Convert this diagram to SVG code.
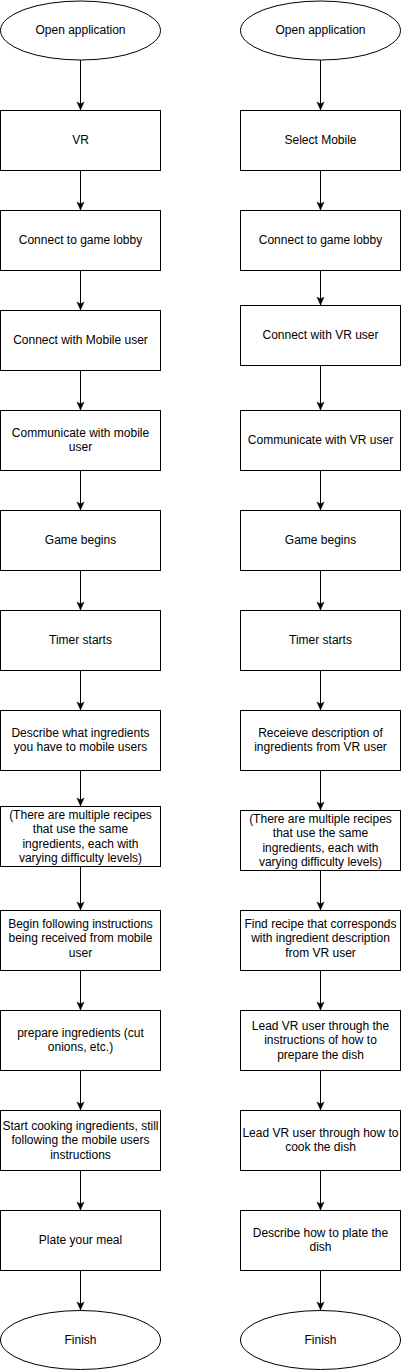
<svg xmlns="http://www.w3.org/2000/svg" width="402" height="1371" viewBox="0 0 402 1371">
<style>
.s{fill:#fff;stroke:#000;stroke-width:1}
.t{font-family:"Liberation Sans",Arial,Helvetica,sans-serif;font-size:12px;fill:#000;text-anchor:middle}
.c{fill:none;stroke:#000;stroke-width:1}
</style>
<defs>
<marker id="a" markerUnits="userSpaceOnUse" markerWidth="10" markerHeight="10" refX="8" refY="4" orient="auto">
<path d="M0,0.5 L8,4 L0,7.5 L2,4 Z" fill="#000" stroke="#000" stroke-width="0.5"/>
</marker>
</defs>
<rect width="402" height="1371" fill="#fff"/>
<g id="connectors">
<path class="c" marker-end="url(#a)" d="M80.5,60 V110"/>
<path class="c" marker-end="url(#a)" d="M80.5,170 V210"/>
<path class="c" marker-end="url(#a)" d="M80.5,270 V310"/>
<path class="c" marker-end="url(#a)" d="M80.5,370 V410"/>
<path class="c" marker-end="url(#a)" d="M80.5,470 V510"/>
<path class="c" marker-end="url(#a)" d="M80.5,570 V610"/>
<path class="c" marker-end="url(#a)" d="M80.5,670 V710"/>
<path class="c" marker-end="url(#a)" d="M80.5,770 V806"/>
<path class="c" marker-end="url(#a)" d="M80.5,866 V910"/>
<path class="c" marker-end="url(#a)" d="M80.5,970 V1010"/>
<path class="c" marker-end="url(#a)" d="M80.5,1070 V1110"/>
<path class="c" marker-end="url(#a)" d="M80.5,1170 V1210"/>
<path class="c" marker-end="url(#a)" d="M80.5,1270 V1310"/>
<path class="c" marker-end="url(#a)" d="M320.5,60 V110"/>
<path class="c" marker-end="url(#a)" d="M320.5,170 V210"/>
<path class="c" marker-end="url(#a)" d="M320.5,270 V305"/>
<path class="c" marker-end="url(#a)" d="M320.5,365 V410"/>
<path class="c" marker-end="url(#a)" d="M320.5,470 V510"/>
<path class="c" marker-end="url(#a)" d="M320.5,570 V610"/>
<path class="c" marker-end="url(#a)" d="M320.5,670 V710"/>
<path class="c" marker-end="url(#a)" d="M320.5,770 V810"/>
<path class="c" marker-end="url(#a)" d="M320.5,870 V910"/>
<path class="c" marker-end="url(#a)" d="M320.5,970 V1010"/>
<path class="c" marker-end="url(#a)" d="M320.5,1070 V1110"/>
<path class="c" marker-end="url(#a)" d="M320.5,1170 V1210"/>
<path class="c" marker-end="url(#a)" d="M320.5,1270 V1310"/>
</g>
<g id="L0"><ellipse class="s" cx="80.5" cy="30.5" rx="80" ry="29.5"/><text class="t" x="80.5" y="34">Open application</text></g>
<g id="L1"><rect class="s" x="0.5" y="110.5" width="160" height="60"/><text class="t" x="80.5" y="144">VR</text></g>
<g id="L2"><rect class="s" x="0.5" y="210.5" width="160" height="60"/><text class="t" x="80.5" y="244">Connect to game lobby</text></g>
<g id="L3"><rect class="s" x="0.5" y="310.5" width="160" height="60"/><text class="t" x="80.5" y="344">Connect with Mobile user</text></g>
<g id="L4"><rect class="s" x="0.5" y="410.5" width="160" height="60"/><text class="t" x="80.5" y="437">Communicate with mobile</text><text class="t" x="80.5" y="451">user</text></g>
<g id="L5"><rect class="s" x="0.5" y="510.5" width="160" height="60"/><text class="t" x="80.5" y="544">Game begins</text></g>
<g id="L6"><rect class="s" x="0.5" y="610.5" width="160" height="60"/><text class="t" x="80.5" y="644">Timer starts</text></g>
<g id="L7"><rect class="s" x="0.5" y="710.5" width="160" height="60"/><text class="t" x="80.5" y="737">Describe what ingredients</text><text class="t" x="80.5" y="751">you have to mobile users</text></g>
<g id="L8"><rect class="s" x="0.5" y="806.5" width="160" height="60"/><text class="t" x="80.5" y="818.5">(There are multiple recipes</text><text class="t" x="80.5" y="833">that use the same</text><text class="t" x="80.5" y="847.5">ingredients, each with</text><text class="t" x="80.5" y="862">varying difficulty levels)</text></g>
<g id="L9"><rect class="s" x="0.5" y="910.5" width="160" height="60"/><text class="t" x="80.5" y="927.5">Begin following instructions</text><text class="t" x="80.5" y="942">being received from mobile</text><text class="t" x="80.5" y="956.5">user</text></g>
<g id="L10"><rect class="s" x="0.5" y="1010.5" width="160" height="60"/><text class="t" x="80.5" y="1037">prepare ingredients (cut</text><text class="t" x="80.5" y="1051">onions, etc.)</text></g>
<g id="L11"><rect class="s" x="0.5" y="1110.5" width="160" height="60"/><text class="t" x="80.5" y="1129.5">Start cooking ingredients, still</text><text class="t" x="80.5" y="1144">following the mobile users</text><text class="t" x="80.5" y="1158.5">instructions</text></g>
<g id="L12"><rect class="s" x="0.5" y="1210.5" width="160" height="60"/><text class="t" x="80.5" y="1244">Plate your meal</text></g>
<g id="L13"><ellipse class="s" cx="80.5" cy="1340" rx="80" ry="29.5"/><text class="t" x="80.5" y="1344">Finish</text></g>
<g id="R0"><ellipse class="s" cx="320.5" cy="30.5" rx="80" ry="29.5"/><text class="t" x="320.5" y="34">Open application</text></g>
<g id="R1"><rect class="s" x="240.5" y="110.5" width="160" height="60"/><text class="t" x="320.5" y="144">Select Mobile</text></g>
<g id="R2"><rect class="s" x="240.5" y="210.5" width="160" height="60"/><text class="t" x="320.5" y="244">Connect to game lobby</text></g>
<g id="R3"><rect class="s" x="240.5" y="305.5" width="160" height="60"/><text class="t" x="320.5" y="339">Connect with VR user</text></g>
<g id="R4"><rect class="s" x="240.5" y="410.5" width="160" height="60"/><text class="t" x="320.5" y="444">Communicate with VR user</text></g>
<g id="R5"><rect class="s" x="240.5" y="510.5" width="160" height="60"/><text class="t" x="320.5" y="544">Game begins</text></g>
<g id="R6"><rect class="s" x="240.5" y="610.5" width="160" height="60"/><text class="t" x="320.5" y="644">Timer starts</text></g>
<g id="R7"><rect class="s" x="240.5" y="710.5" width="160" height="60"/><text class="t" x="320.5" y="737">Receieve description of</text><text class="t" x="320.5" y="751">ingredients from VR user</text></g>
<g id="R8"><rect class="s" x="240.5" y="810.5" width="160" height="60"/><text class="t" x="320.5" y="822.5">(There are multiple recipes</text><text class="t" x="320.5" y="837">that use the same</text><text class="t" x="320.5" y="851.5">ingredients, each with</text><text class="t" x="320.5" y="866">varying difficulty levels)</text></g>
<g id="R9"><rect class="s" x="240.5" y="910.5" width="160" height="60"/><text class="t" x="320.5" y="927.5">Find recipe that corresponds</text><text class="t" x="320.5" y="942">with ingredient description</text><text class="t" x="320.5" y="956.5">from VR user</text></g>
<g id="R10"><rect class="s" x="240.5" y="1010.5" width="160" height="60"/><text class="t" x="320.5" y="1029.5">Lead VR user through the</text><text class="t" x="320.5" y="1044">instructions of how to</text><text class="t" x="320.5" y="1058.5">prepare the dish</text></g>
<g id="R11"><rect class="s" x="240.5" y="1110.5" width="160" height="60"/><text class="t" x="320.5" y="1137">Lead VR user through how to</text><text class="t" x="320.5" y="1151">cook the dish</text></g>
<g id="R12"><rect class="s" x="240.5" y="1210.5" width="160" height="60"/><text class="t" x="320.5" y="1237">Describe how to plate the</text><text class="t" x="320.5" y="1251">dish</text></g>
<g id="R13"><ellipse class="s" cx="320.5" cy="1340" rx="80" ry="29.5"/><text class="t" x="320.5" y="1344">Finish</text></g>
</svg>
